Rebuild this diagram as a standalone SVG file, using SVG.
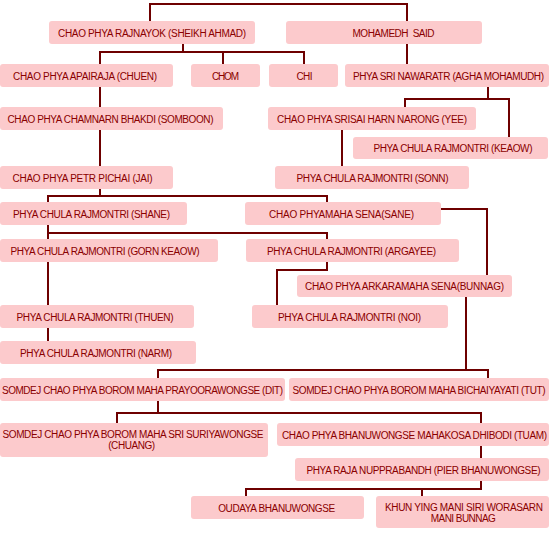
<svg xmlns="http://www.w3.org/2000/svg" width="550" height="533" viewBox="0 0 550 533">
<style>
.bg{fill:#fff}
.box{fill:#fccacc}
.t{font-family:"Liberation Sans",Arial,sans-serif;font-size:10px;fill:#8a0000;text-anchor:middle}
.c{fill:none;stroke:#6e0000;stroke-width:2}
</style>
<rect class="bg" x="0" y="0" width="550" height="533"/>
<g id="connectors" class="c">
<path d="M150,21 V4 H407 V64"/>
<path d="M183,44 V52 M100,64 V52 H304 V64 M223,52 V64"/>
<path d="M488,87 V99 M405,107 V99 H509 V137"/>
<path d="M100,87 V166"/>
<path d="M342,130 V166"/>
<path d="M100,189 V196 M48,202 V196 H327 V202"/>
<path d="M48,225 V341 M48,233 H327 V239"/>
<path d="M327,262 V270 H277 V305"/>
<path d="M441,209 H487 V275"/>
<path d="M466,297 V370 M158,378 V370 H488 V378"/>
<path d="M158,401 V413 M117,423 V413 H481 V423"/>
<path d="M481,446 V489 H246 V496 M422,489 V496"/>
</g>
<g id="n1"><rect class="box" x="49" y="21" width="206" height="23" rx="3"/><text class="t" x="152" y="37" textLength="188">CHAO PHYA RAJNAYOK (SHEIKH AHMAD)</text></g>
<g id="n2"><rect class="box" x="286" y="21" width="196" height="23" rx="3"/><text class="t" x="393.5" y="37" textLength="82" xml:space="preserve">MOHAMEDH  SAID</text></g>
<g id="n3"><rect class="box" x="0" y="64" width="173" height="23" rx="3"/><text class="t" x="85" y="80" textLength="144">CHAO PHYA APAIRAJA (CHUEN)</text></g>
<g id="n4"><rect class="box" x="191" y="64" width="69" height="23" rx="3"/><text class="t" x="225.5" y="80" textLength="27">CHOM</text></g>
<g id="n5"><rect class="box" x="269" y="64" width="69" height="23" rx="3"/><text class="t" x="304.5" y="80" textLength="16">CHI</text></g>
<g id="n6"><rect class="box" x="345" y="64" width="204" height="23" rx="3"/><text class="t" x="448.5" y="80" textLength="191">PHYA SRI NAWARATR (AGHA MOHAMUDH)</text></g>
<g id="n7"><rect class="box" x="0" y="107" width="223" height="23" rx="3"/><text class="t" x="110.5" y="123" textLength="206">CHAO PHYA CHAMNARN BHAKDI (SOMBOON)</text></g>
<g id="n8"><rect class="box" x="268" y="107" width="208" height="23" rx="3"/><text class="t" x="372" y="123" textLength="190">CHAO PHYA SRISAI HARN NARONG (YEE)</text></g>
<g id="n9"><rect class="box" x="353" y="137" width="195" height="22" rx="3"/><text class="t" x="453" y="152" textLength="159">PHYA CHULA RAJMONTRI (KEAOW)</text></g>
<g id="n10"><rect class="box" x="0" y="166" width="173" height="23" rx="3"/><text class="t" x="82.5" y="182" textLength="140">CHAO PHYA PETR PICHAI (JAI)</text></g>
<g id="n11"><rect class="box" x="275" y="166" width="194" height="23" rx="3"/><text class="t" x="372.5" y="182" textLength="152">PHYA CHULA RAJMONTRI (SONN)</text></g>
<g id="n12"><rect class="box" x="0" y="202" width="187" height="23" rx="3"/><text class="t" x="91.5" y="218" textLength="157">PHYA CHULA RAJMONTRI (SHANE)</text></g>
<g id="n13"><rect class="box" x="245" y="202" width="196" height="23" rx="3"/><text class="t" x="341.5" y="218" textLength="145">CHAO PHYAMAHA SENA(SANE)</text></g>
<g id="n14"><rect class="box" x="0" y="239" width="218" height="23" rx="3"/><text class="t" x="105" y="255" textLength="189">PHYA CHULA RAJMONTRI (GORN KEAOW)</text></g>
<g id="n15"><rect class="box" x="246" y="239" width="213" height="23" rx="3"/><text class="t" x="351.5" y="255" textLength="169">PHYA CHULA RAJMONTRI (ARGAYEE)</text></g>
<g id="n16"><rect class="box" x="297" y="275" width="215" height="22" rx="3"/><text class="t" x="404.5" y="290" textLength="199">CHAO PHYA ARKARAMAHA SENA(BUNNAG)</text></g>
<g id="n17"><rect class="box" x="0" y="305" width="194" height="23" rx="3"/><text class="t" x="95" y="321" textLength="157">PHYA CHULA RAJMONTRI (THUEN)</text></g>
<g id="n18"><rect class="box" x="252" y="305" width="196" height="23" rx="3"/><text class="t" x="349.5" y="321" textLength="143">PHYA CHULA RAJMONTRI (NOI)</text></g>
<g id="n19"><rect class="box" x="0" y="341" width="196" height="23" rx="3"/><text class="t" x="96" y="357" textLength="152">PHYA CHULA RAJMONTRI (NARM)</text></g>
<g id="n20"><rect class="box" x="0" y="378" width="285" height="23" rx="3"/><text class="t" x="142.5" y="394" textLength="281">SOMDEJ CHAO PHYA BOROM MAHA PRAYOORAWONGSE (DIT)</text></g>
<g id="n21"><rect class="box" x="289" y="378" width="260" height="23" rx="3"/><text class="t" x="419" y="394" textLength="253">SOMDEJ CHAO PHYA BOROM MAHA BICHAIYAYATI (TUT)</text></g>
<g id="n22"><rect class="box" x="0" y="423" width="268" height="34" rx="3"/><text class="t" x="133" y="437.5" textLength="261">SOMDEJ CHAO PHYA BOROM MAHA SRI SURIYAWONGSE</text><text class="t" x="131.7" y="448.5" textLength="47">(CHUANG)</text></g>
<g id="n23"><rect class="box" x="277" y="423" width="272" height="23" rx="3"/><text class="t" x="414.5" y="439" textLength="265">CHAO PHYA BHANUWONGSE MAHAKOSA DHIBODI (TUAM)</text></g>
<g id="n24"><rect class="box" x="295" y="458" width="254" height="23" rx="3"/><text class="t" x="423.5" y="474" textLength="234">PHYA RAJA NUPPRABANDH (PIER BHANUWONGSE)</text></g>
<g id="n25"><rect class="box" x="191" y="496" width="173" height="23" rx="3"/><text class="t" x="276.7" y="512" textLength="117">OUDAYA BHANUWONGSE</text></g>
<g id="n26"><rect class="box" x="376" y="496" width="173" height="32" rx="3"/><text class="t" x="464" y="511" textLength="158">KHUN YING MANI SIRI WORASARN</text><text class="t" x="463.3" y="522" textLength="65">MANI BUNNAG</text></g>
</svg>
